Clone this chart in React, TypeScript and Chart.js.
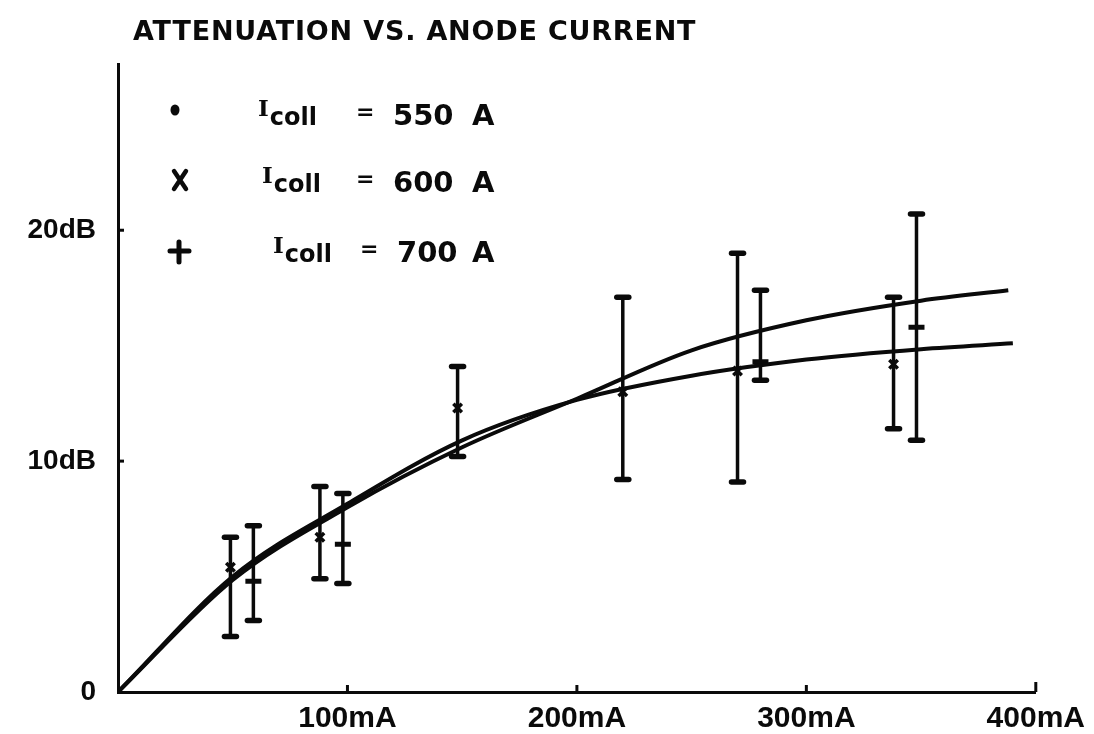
import React, { useEffect, useRef } from 'react';
import { Chart, registerables } from 'chart.js';

Chart.register(...registerables);

// ---------- data ----------
const TITLE = 'ATTENUATION VS. ANODE CURRENT';
const X_TICKS = [100, 200, 300, 400];
const Y_TICKS = [0, 10, 20];
const X_MAX = 400;
const Y_MAX = 27.2;

// fitted curves (upper / lower at high current)
const CURVE_A_X = [0, 50, 100, 150, 200, 250, 300, 350, 388];
const CURVE_A_Y = [0, 4.85, 8.0, 10.6, 12.7, 14.8, 16.1, 16.95, 17.4];
const CURVE_B_X = [0, 50, 100, 150, 200, 250, 300, 350, 390];
const CURVE_B_Y = [0, 5.0, 8.15, 10.9, 12.65, 13.7, 14.4, 14.85, 15.1];

// I_coll = 600 A (X markers)
const S600_X = [49, 88, 148, 220, 270, 338];
const S600_Y = [5.4, 6.7, 12.3, 13.0, 13.9, 14.2];
const S600_LO = [2.4, 4.9, 10.2, 9.2, 9.1, 11.4];
const S600_HI = [6.7, 8.9, 14.1, 17.1, 19.0, 17.1];

// I_coll = 700 A (+ markers)
const S700_X = [59, 98, 280, 348];
const S700_Y = [4.8, 6.4, 14.3, 15.8];
const S700_LO = [3.1, 4.7, 13.5, 10.9];
const S700_HI = [7.2, 8.6, 17.4, 20.7];

const LEGEND_VALUES = ['550 A', '600 A', '700 A'];
const LEGEND_SUB = 'coll';

const INK = '#0a0a0a';

function pts(xs: number[], ys: number[]) {
  return xs.map((x, i) => ({ x, y: ys[i] }));
}

const errorBarPlugin = {
  id: 'errorBars',
  beforeDatasetsDraw(chart: any) {
    const { ctx, scales } = chart;
    const xs = scales.x;
    const ys = scales.y;
    const groups = [
      { x: S600_X, lo: S600_LO, hi: S600_HI },
      { x: S700_X, lo: S700_LO, hi: S700_HI },
    ];
    ctx.save();
    ctx.strokeStyle = INK;
    ctx.lineCap = 'round';
    groups.forEach((g) => {
      g.x.forEach((xv, i) => {
        const px = xs.getPixelForValue(xv);
        const top = ys.getPixelForValue(g.hi[i]);
        const bot = ys.getPixelForValue(g.lo[i]);
        ctx.lineWidth = 3.5;
        ctx.beginPath();
        ctx.moveTo(px, top);
        ctx.lineTo(px, bot);
        ctx.stroke();
        ctx.lineWidth = 5.5;
        [top, bot].forEach((py) => {
          ctx.beginPath();
          ctx.moveTo(px - 6, py);
          ctx.lineTo(px + 6, py);
          ctx.stroke();
        });
      });
    });
    ctx.restore();
  },
};

const axisTickPlugin = {
  id: 'axisTicks',
  afterDraw(chart: any) {
    const { ctx, scales, chartArea } = chart;
    ctx.save();
    ctx.strokeStyle = INK;
    ctx.lineWidth = 3;
    X_TICKS.forEach((v) => {
      const px = scales.x.getPixelForValue(v);
      ctx.beginPath();
      ctx.moveTo(px, chartArea.bottom);
      ctx.lineTo(px, chartArea.bottom - (v === X_MAX ? 10 : 7));
      ctx.stroke();
    });
    Y_TICKS.filter((v) => v > 0).forEach((v) => {
      const py = scales.y.getPixelForValue(v);
      ctx.beginPath();
      ctx.moveTo(chartArea.left, py);
      ctx.lineTo(chartArea.left + 6, py);
      ctx.stroke();
    });
    ctx.restore();
  },
};

const annotationPlugin = {
  id: 'annotations',
  afterDraw(chart: any) {
    const { ctx } = chart;
    ctx.save();
    ctx.fillStyle = INK;
    ctx.strokeStyle = INK;
    ctx.textBaseline = 'alphabetic';
    ctx.textAlign = 'left';

    // title
    ctx.font = 'bold 27px "DejaVu Sans"';
    (ctx as any).letterSpacing = '0.8px';
    ctx.fillText(TITLE, 133, 40);
    (ctx as any).letterSpacing = '0px';

    // legend
    const rows = [
      { base: 125, mark: 110, iX: 258, eqX: 356, valX: 393 },
      { base: 192, mark: 180, iX: 262, eqX: 356, valX: 393 },
      { base: 262, mark: 252, iX: 273, eqX: 360, valX: 397 },
    ];
    rows.forEach((r, i) => {
      // marker
      ctx.lineCap = 'round';
      if (i === 0) {
        ctx.beginPath();
        ctx.ellipse(175, r.mark, 4.5, 5.5, 0, 0, Math.PI * 2);
        ctx.fill();
      } else if (i === 1) {
        ctx.lineWidth = 4.5;
        ctx.beginPath();
        ctx.moveTo(174, r.mark - 9);
        ctx.lineTo(186, r.mark + 9);
        ctx.moveTo(186, r.mark - 9);
        ctx.lineTo(174, r.mark + 9);
        ctx.stroke();
      } else {
        ctx.lineWidth = 5;
        ctx.beginPath();
        ctx.moveTo(179, r.mark - 10);
        ctx.lineTo(179, r.mark + 10);
        ctx.moveTo(170, r.mark - 1);
        ctx.lineTo(189, r.mark - 1);
        ctx.stroke();
      }
      // I_coll
      ctx.font = 'bold 23px "DejaVu Serif"';
      ctx.fillText('I', r.iX, r.base - 9);
      const iw = ctx.measureText('I').width;
      ctx.font = 'bold 24px "DejaVu Sans"';
      ctx.fillText(LEGEND_SUB, r.iX + iw + 1, r.base);
      // equals
      ctx.font = 'bold 22px "DejaVu Sans"';
      ctx.fillText('=', r.eqX, r.base - 6);
      // value
      ctx.font = 'bold 29px "DejaVu Sans"';
      const [num, unit] = LEGEND_VALUES[i].split(' ');
      ctx.fillText(num, r.valX, r.base);
      ctx.fillText(unit, 472, r.base);
    });
    ctx.restore();
  },
};

export default function App() {
  const ref = useRef<HTMLCanvasElement | null>(null);

  useEffect(() => {
    if (!ref.current) return;
    const chart = new Chart(ref.current, {
      type: 'scatter',
      data: {
        datasets: [
          {
            type: 'line',
            label: 'curve A',
            data: pts(CURVE_A_X, CURVE_A_Y),
            borderColor: INK,
            borderWidth: 4,
            pointRadius: 0,
            fill: false,
            cubicInterpolationMode: 'monotone',
          } as any,
          {
            type: 'line',
            label: 'curve B',
            data: pts(CURVE_B_X, CURVE_B_Y),
            borderColor: INK,
            borderWidth: 4,
            pointRadius: 0,
            fill: false,
            cubicInterpolationMode: 'monotone',
          } as any,
          {
            label: 'Icoll = 600 A',
            data: pts(S600_X, S600_Y),
            pointStyle: 'crossRot',
            pointRadius: 6,
            borderColor: INK,
            borderWidth: 3.5,
            showLine: false,
          },
          {
            label: 'Icoll = 700 A',
            data: pts(S700_X, S700_Y),
            pointStyle: 'line',
            pointRadius: 8,
            borderColor: INK,
            borderWidth: 5,
            showLine: false,
          },
        ],
      },
      options: {
        animation: false,
        responsive: true,
        maintainAspectRatio: false,
        layout: { padding: { left: 0, right: 58, top: 64, bottom: 0 } },
        plugins: {
          legend: { display: false },
          tooltip: { enabled: false },
          title: { display: false },
        },
        scales: {
          x: {
            type: 'linear',
            min: 0,
            max: X_MAX,
            position: 'bottom',
            grid: { display: false, drawTicks: false },
            border: { display: true, color: INK, width: 3 },
            ticks: {
              color: INK,
              padding: 9,
              maxRotation: 0,
              autoSkip: false,
              font: { family: 'Liberation Sans', size: 30, weight: 'bold' },
              callback: (v: any) => `${v}mA`,
            },
            afterBuildTicks: (s: any) => {
              s.ticks = X_TICKS.map((value) => ({ value }));
            },
            afterFit: (s: any) => {
              s.height = 42;
            },
          },
          y: {
            type: 'linear',
            min: 0,
            max: Y_MAX,
            grid: { display: false, drawTicks: false },
            border: { display: true, color: INK, width: 3 },
            ticks: {
              color: INK,
              padding: 22,
              autoSkip: false,
              font: { family: 'Liberation Sans', size: 28, weight: 'bold' },
              callback: (v: any) => (v === 0 ? '0' : `${v}dB`),
            },
            afterBuildTicks: (s: any) => {
              s.ticks = Y_TICKS.map((value) => ({ value }));
            },
            afterFit: (s: any) => {
              s.width = 118;
            },
          },
        },
      },
      plugins: [errorBarPlugin, axisTickPlugin, annotationPlugin],
    });
    return () => chart.destroy();
  }, []);

  return (
    <div style={{ position: 'absolute', left: 0, top: 0, width: 1094, height: 734, background: '#fff' }}>
      <canvas ref={ref} />
    </div>
  );
}
